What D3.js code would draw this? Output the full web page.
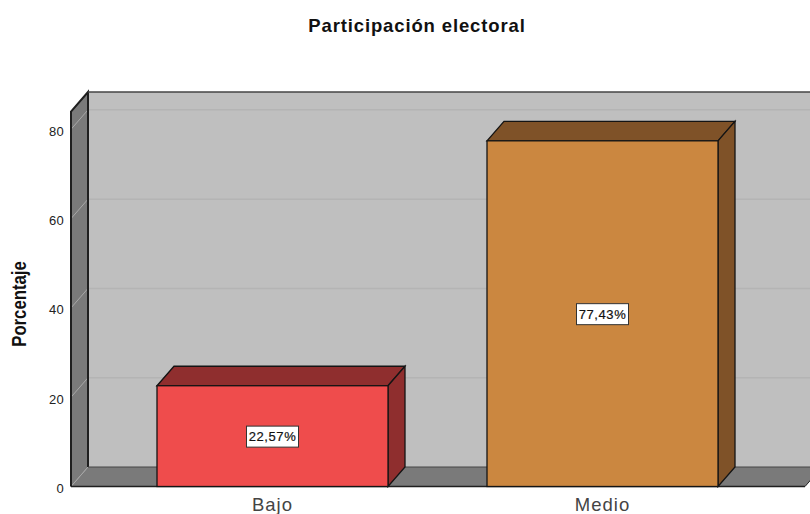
<!DOCTYPE html>
<html><head><meta charset="utf-8">
<script src="https://cdn.jsdelivr.net/npm/d3@7"></script>
<style>html,body{margin:0;padding:0;background:#fff;overflow:hidden}svg{display:block}text{font-family:"Liberation Sans",Arial,sans-serif}</style>
</head><body><svg id="c" width="810" height="514"></svg>
<script>
const categories = ["Bajo", "Medio"];
const percentages = [22.57, 77.43];
const valueLabels = ["22,57%", "77,43%"];
const frontColors = ["#ef4c4c", "#cb8740"];
const topColors = ["#8f2e2e", "#7f5228"];
const yTicks = [0, 20, 40, 60, 80];
const titleText = "Participación electoral";
const yLabel = "Porcentaje";

const W = 810, H = 514, depthX = 17, depthY = 19.5;
const svg = d3.select("#c");
const y = d3.scaleLinear().domain([0, 84]).range([486.5, 111.5]);
const x = d3.scaleBand().domain(categories).range([107.5, 767.5]).paddingInner(0.3).paddingOuter(0.15);
const frontLeft = 71, frontRight = 805, y0 = y(0), yTop = y.range()[1];
const poly = pts => d3.line()(pts) + "Z";
const g = svg.append("g");

// back wall
g.append("path").attr("d", poly([[frontLeft+depthX,yTop-depthY],[W+20,yTop-depthY],[W+20,y0-depthY],[frontLeft+depthX,y0-depthY]])).attr("fill","#bfbfbf");
// side wall
g.append("path").attr("d", poly([[frontLeft,yTop],[frontLeft+depthX,yTop-depthY],[frontLeft+depthX,y0-depthY],[frontLeft,y0]])).attr("fill","#7a7a7a");
// floor
g.append("path").attr("d", poly([[frontLeft,y0],[frontLeft+depthX,y0-depthY],[frontRight+depthX,y0-depthY],[frontRight,y0]])).attr("fill","#7a7a7a");

// gridlines
g.selectAll(".gb").data(yTicks.filter(d=>d>0)).join("line")
  .attr("x1",frontLeft+depthX).attr("x2",W).attr("y1",d=>y(d)-depthY).attr("y2",d=>y(d)-depthY)
  .attr("stroke","#b4b4b4").attr("stroke-width",1.5);
g.selectAll(".gs").data(yTicks).join("line")
  .attr("x1",frontLeft).attr("x2",frontLeft+depthX).attr("y1",d=>y(d)).attr("y2",d=>y(d)-depthY)
  .attr("stroke","#a8a8a8").attr("stroke-width",1);

// frame
const frame = "#1f1f1f";
g.append("path").attr("d", d3.line()([[frontLeft,y0],[frontLeft,yTop],[frontLeft+depthX,yTop-depthY],[frontLeft+depthX,y0-depthY]])).attr("fill","none").attr("stroke",frame).attr("stroke-width",2);
g.append("line").attr("x1",frontLeft+depthX).attr("x2",W).attr("y1",yTop-depthY).attr("y2",yTop-depthY).attr("stroke","#444").attr("stroke-width",1.5);
g.append("line").attr("x1",frontLeft+depthX).attr("x2",W).attr("y1",y0-depthY).attr("y2",y0-depthY).attr("stroke","#444").attr("stroke-width",1);
g.append("line").attr("x1",frontRight).attr("x2",frontRight+depthX).attr("y1",y0).attr("y2",y0-depthY).attr("stroke","#222").attr("stroke-width",1);
g.append("line").attr("x1",frontLeft).attr("x2",frontRight).attr("y1",y0).attr("y2",y0).attr("stroke",frame).attr("stroke-width",1.5);

// bars
const bars = g.selectAll(".bar").data(categories).join("g");
const bx = d => x(d), bw = x.bandwidth();
const val = (d,i) => y(percentages[i]);
bars.append("path").attr("d",(d,i)=>poly([[bx(d),val(d,i)],[bx(d)+depthX,val(d,i)-depthY],[bx(d)+bw+depthX,val(d,i)-depthY],[bx(d)+bw,val(d,i)]]))
  .attr("fill",(d,i)=>topColors[i]).attr("stroke","#141414").attr("stroke-width",1.3);
bars.append("path").attr("d",(d,i)=>poly([[bx(d)+bw,val(d,i)],[bx(d)+bw+depthX,val(d,i)-depthY],[bx(d)+bw+depthX,y0-depthY],[bx(d)+bw,y0]]))
  .attr("fill",(d,i)=>topColors[i]).attr("stroke","#141414").attr("stroke-width",1.3);
bars.append("rect").attr("x",bx).attr("y",val).attr("width",bw).attr("height",(d,i)=>y0-val(d,i))
  .attr("fill",(d,i)=>frontColors[i]).attr("stroke","#141414").attr("stroke-width",1.3);

// value labels
bars.append("rect").attr("x",d=>bx(d)+bw/2-26).attr("y",(d,i)=>(val(d,i)+y0)/2-10).attr("width",52).attr("height",21)
  .attr("fill","#fff").attr("stroke","#333").attr("stroke-width",1);
bars.append("text").attr("x",d=>bx(d)+bw/2).attr("y",(d,i)=>(val(d,i)+y0)/2+5).attr("text-anchor","middle")
  .attr("font-size",13).attr("letter-spacing",0.6).attr("stroke","#111").attr("stroke-width",0.2).attr("fill","#111").text((d,i)=>valueLabels[i]);

// y tick labels
g.selectAll(".yt").data(yTicks).join("text").attr("x",64).attr("y",d=>y(d)+6.5).attr("text-anchor","end")
  .attr("font-size",13).attr("letter-spacing",0.3).attr("fill","#222").text(d=>d);
// x tick labels
g.selectAll(".xt").data(categories).join("text").attr("x",d=>bx(d)+bw/2).attr("y",511).attr("text-anchor","middle")
  .attr("font-size",18.5).attr("letter-spacing",1).attr("fill","#444").text(d=>d);
// titles
svg.append("text").attr("x",417).attr("y",32).attr("text-anchor","middle").attr("font-size",18.5).attr("letter-spacing",0.87).attr("font-weight","bold").attr("fill","#111").text(titleText);
svg.append("text").attr("transform","translate(26,304) rotate(-90) scale(0.93,1.08)").attr("text-anchor","middle").attr("font-size",18).attr("font-weight","bold").attr("fill","#111").text(yLabel);
</script></body></html>
